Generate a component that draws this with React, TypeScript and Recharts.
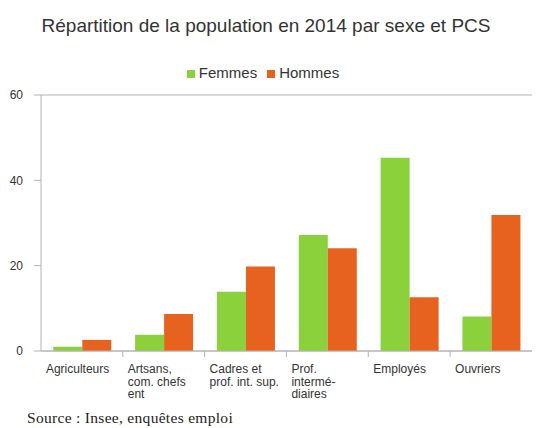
import { BarChart, Bar, XAxis, YAxis, CartesianGrid, Legend } from 'recharts';

const categories = ['Agriculteurs', 'Artisans', 'Cadres', 'Prof', 'Employes', 'Ouvriers'];
const tickLabels = [
  ['Agriculteurs'],
  ['Artsans,', 'com. chefs', 'ent'],
  ['Cadres et', 'prof. int. sup.'],
  ['Prof.', 'intermé-', 'diaires'],
  ['Employés'],
  ['Ouvriers'],
];
const femmes = [1.0, 3.8, 13.9, 27.2, 45.3, 8.1];
const hommes = [2.6, 8.7, 19.8, 24.1, 12.6, 31.9];
const yTicks = [0, 20, 40, 60];

const data = categories.map((c, i) => ({ cat: c, idx: i, Femmes: femmes[i], Hommes: hommes[i] }));

const GREEN = '#8ad13b';
const ORANGE = '#e8621f';
const GRID = '#b3b3b3';
const FONT = '"Liberation Sans", Arial, sans-serif';

const CategoryTick = (props: any) => {
  const { x, y, payload, index } = props;
  const lines = tickLabels[payload.index ?? index] || [];
  const half = 41;
  return (
    <g>
      {index > 0 && <line x1={x - half} x2={x - half} y1={y} y2={y + 6} stroke={GRID} />}
      <text x={x - 36} y={y} fill="#333" fontSize={12} fontFamily={FONT} textAnchor="start">
        {lines.map((l: string, i: number) => (
          <tspan key={i} x={x - 36} dy={i === 0 ? 22 : 12.5}>
            {l}
          </tspan>
        ))}
      </text>
    </g>
  );
};

export default function App() {
  return (
    <div style={{ position: 'absolute', left: 0, top: 0, width: 536, height: 428, background: '#fff' }}>
      <svg width={536} height={428} style={{ position: 'absolute', left: 0, top: 0, pointerEvents: 'none' }}>
        <text x={266} y={32} textAnchor="middle" fontSize={19} fill="#333" fontFamily={FONT}>
          Répartition de la population en 2014 par sexe et PCS
        </text>
        <text
          x={27}
          y={423}
          fontSize={15.5}
          letterSpacing={0.3}
          fill="#222"
          fontFamily='"Liberation Serif", "Times New Roman", serif'
        >
          Source : Insee, enquêtes emploi
        </text>
      </svg>
      <div style={{ position: 'absolute', left: 0, top: 0 }}>
        <BarChart
          width={536}
          height={428}
          data={data}
          margin={{ top: 95, right: 4, left: 0, bottom: 27 }}
          barCategoryGap="15%"
          barGap={0}
        >
          <CartesianGrid vertical={false} stroke={GRID} />
          <XAxis
            dataKey="cat"
            height={50}
            interval={0}
            axisLine={{ stroke: GRID }}
            tickLine={false}
            tickSize={0}
            tickMargin={0}
            tick={<CategoryTick />}
          />
          <YAxis
            yAxisId="l"
            width={41}
            domain={[0, 60]}
            ticks={yTicks}
            axisLine={{ stroke: GRID }}
            tickLine={{ stroke: GRID }}
            tickSize={7}
            tickMargin={11}
            tick={{ fill: '#333', fontSize: 12, fontFamily: FONT }}
          />
          <YAxis yAxisId="r" orientation="right" width={0} domain={[0, 60]} tick={false} axisLine={{ stroke: GRID }} tickLine={false} />
          <Legend
            verticalAlign="middle"
            align="center"
            iconType="square"
            iconSize={8}
            wrapperStyle={{ top: 64, left: 0, width: 536, fontSize: 15, fontFamily: FONT, lineHeight: '17px' }}
            formatter={(value: string) => <span style={{ color: '#333' }}>{value}</span>}
          />
          <Bar yAxisId="l" dataKey="Femmes" fill={GREEN} isAnimationActive={false} />
          <Bar yAxisId="l" dataKey="Hommes" fill={ORANGE} isAnimationActive={false} />
        </BarChart>
      </div>
    </div>
  );
}
